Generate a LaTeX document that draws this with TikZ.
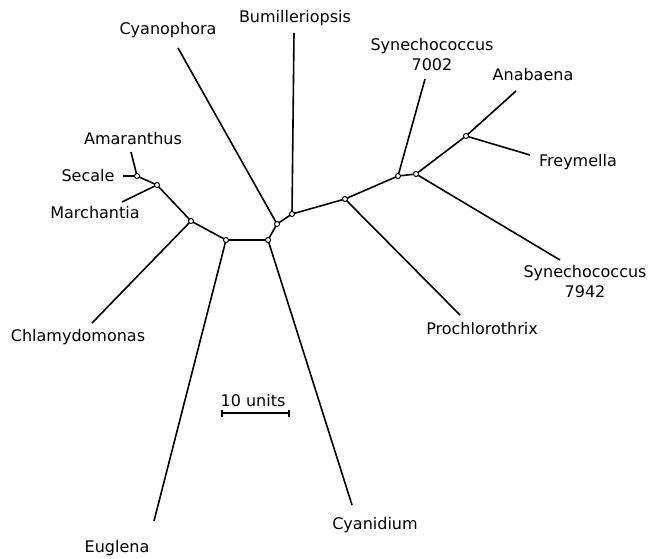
\documentclass[tikz,border=0pt]{standalone}
\usepackage{fontspec}
\setmainfont{DejaVu Sans}
\begin{document}
\begin{tikzpicture}[x=1pt,y=-1pt,
  edge/.style={line width=1.6pt},
  junc/.style={circle,draw,fill=white,line width=1pt,inner sep=0pt,minimum size=5pt},
  leaf/.style={inner sep=0pt,font=\fontsize{16}{20}\selectfont,align=center}]
\useasboundingbox (0,0) rectangle (655,558);
% internal nodes
\coordinate (A) at (137,176);
\coordinate (B) at (157,185);
\coordinate (C) at (191,221);
\coordinate (D) at (226,240);
\coordinate (E) at (268,240);
\coordinate (F) at (277,224);
\coordinate (G) at (292,214);
\coordinate (H) at (345,199);
\coordinate (I) at (398,176);
\coordinate (J) at (416,174);
\coordinate (K) at (466,136);
% leaf ends
\coordinate (eAma) at (131,152);
\coordinate (eSec) at (123,176);
\coordinate (eMar) at (122,202);
\coordinate (eChl) at (92,323);
\coordinate (eEug) at (154,521);
\coordinate (eCyd) at (352,505);
\coordinate (eCyp) at (178,48);
\coordinate (eBum) at (294,33);
\coordinate (ePro) at (460,315);
\coordinate (eS72) at (425,79);
\coordinate (eS79) at (560,260);
\coordinate (eAna) at (516,91);
\coordinate (eFre) at (530,155);
% labels
\node[leaf] (lAma) at (133,139) {Amaranthus};
\node[leaf] (lSec) at (88,176) {Secale};
\node[leaf] (lMar) at (95,213) {Marchantia};
\node[leaf] (lChl) at (78,337) {Chlamydomonas};
\node[leaf] (lEug) at (117,548) {Euglena};
\node[leaf] (lCyd) at (375,525) {Cyanidium};
\node[leaf] (lCyp) at (168,30) {Cyanophora};
\node[leaf] (lBum) at (295,18) {Bumilleriopsis};
\node[leaf] (lPro) at (482,329) {Prochlorothrix};
\node[leaf] (lS72) at (432,55) {Synechococcus\\7002};
\node[leaf] (lS79) at (585,282) {Synechococcus\\7942};
\node[leaf] (lAna) at (533,75) {Anabaena};
\node[leaf] (lFre) at (578,162) {Freymella};
% edges
\draw[edge] (A) -- (eAma);
\draw[edge] (A) -- (eSec);
\draw[edge] (A) -- (B);
\draw[edge] (B) -- (eMar);
\draw[edge] (B) -- (C);
\draw[edge] (C) -- (eChl);
\draw[edge] (C) -- (D);
\draw[edge] (D) -- (eEug);
\draw[edge] (D) -- (E);
\draw[edge] (E) -- (eCyd);
\draw[edge] (E) -- (F);
\draw[edge] (F) -- (eCyp);
\draw[edge] (F) -- (G);
\draw[edge] (G) -- (eBum);
\draw[edge] (G) -- (H);
\draw[edge] (H) -- (ePro);
\draw[edge] (H) -- (I);
\draw[edge] (I) -- (eS72);
\draw[edge] (I) -- (J);
\draw[edge] (J) -- (eS79);
\draw[edge] (J) -- (K);
\draw[edge] (K) -- (eAna);
\draw[edge] (K) -- (eFre);
% junction circles
\foreach \p in {A,B,C,D,E,F,G,H,I,J,K} \node[junc] (n\p) at (\p) {};
% scale bar
\coordinate (sL) at (222,413);
\coordinate (sR) at (289,413);
\draw[edge] (sL) -- (sR);
\draw[line width=1.2pt] ([yshift=-3.5pt]sL) -- ([yshift=3.5pt]sL);
\draw[line width=1.2pt] ([yshift=-3.5pt]sR) -- ([yshift=3.5pt]sR);
\node[leaf] (lScale) at (253,401) {10 units};
\end{tikzpicture}
\end{document}
